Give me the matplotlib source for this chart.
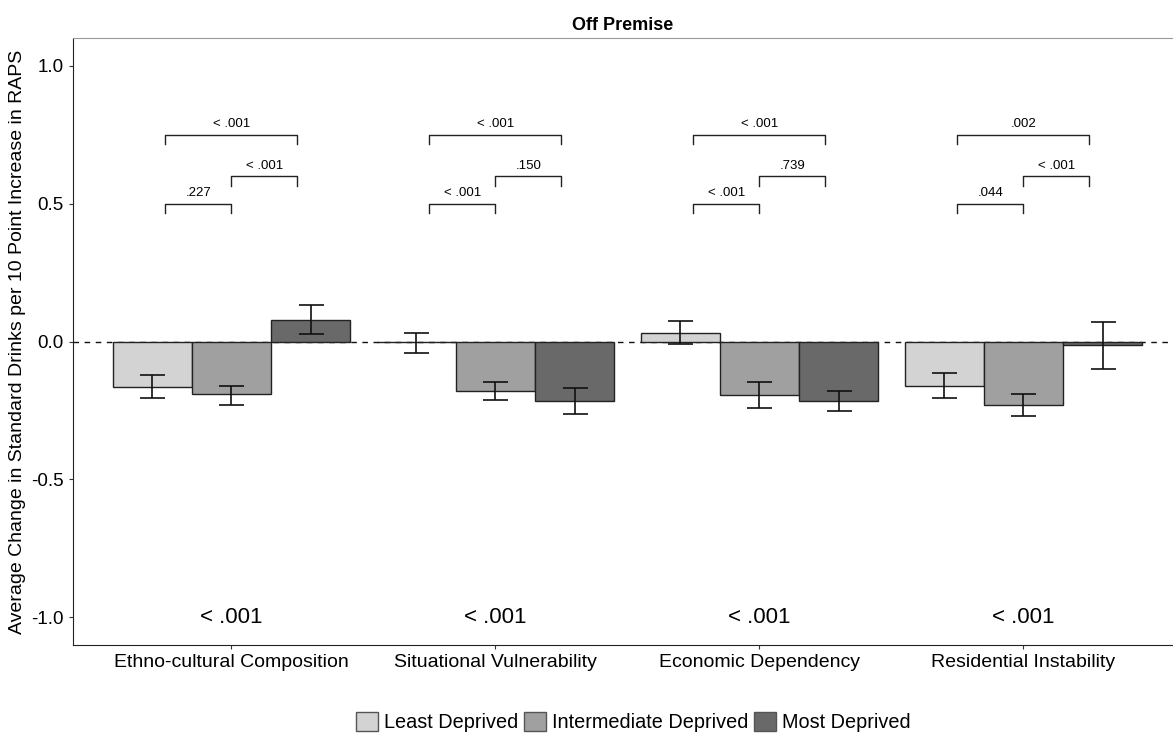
import matplotlib
matplotlib.use("Agg")
import matplotlib.pyplot as plt
from matplotlib.patches import Patch
import numpy as np

plt.rcParams["font.family"] = ["Liberation Sans", "DejaVu Sans"]

categories = ["Ethno-cultural Composition", "Situational Vulnerability",
              "Economic Dependency", "Residential Instability"]
groups = ["Least Deprived", "Intermediate Deprived", "Most Deprived"]
colors = ["#d3d3d3", "#a0a0a0", "#696969"]

# estimates per group (rows) x category (cols)
means = [
    [-0.165, -0.003, 0.031, -0.161],
    [-0.192, -0.178, -0.195, -0.229],
    [0.079, -0.217, -0.215, -0.013],
]
err_lo = [
    [-0.206, -0.040, -0.010, -0.204],
    [-0.230, -0.213, -0.241, -0.270],
    [0.026, -0.263, -0.252, -0.098],
]
err_hi = [
    [-0.120, 0.032, 0.075, -0.115],
    [-0.160, -0.145, -0.148, -0.190],
    [0.133, -0.170, -0.179, 0.070],
]

# pairwise p-values: (least vs inter), (inter vs most), (least vs most)
p_pairs = [
    [".227", "< .001", "< .001"],
    ["< .001", ".150", "< .001"],
    ["< .001", ".739", "< .001"],
    [".044", "< .001", ".002"],
]
p_overall = ["< .001", "< .001", "< .001", "< .001"]

fig = plt.figure(figsize=(11.73, 7.36), dpi=100)
ax = fig.add_axes([0.0622, 0.1236, 0.9378, 0.8248])

x = np.arange(1, len(categories) + 1)
width = 0.3
for i, g in enumerate(groups):
    xpos = x + (i - 1) * width
    m = np.array(means[i])
    ax.bar(xpos, m, width=width, color=colors[i], edgecolor="#222222",
           linewidth=1.0, zorder=2, label=g)
    lo = m - np.array(err_lo[i])
    hi = np.array(err_hi[i]) - m
    ax.errorbar(xpos, m, yerr=[lo, hi], fmt="none", ecolor="#111111",
                elinewidth=1.2, capsize=9, capthick=1.2, zorder=3)

ax.axhline(0, color="#111111", linestyle=(0, (4, 4)), linewidth=1.0, zorder=1)

# significance brackets
tip = 0.035
levels = [0.5, 0.6, 0.75]
pairs = [(-1, 0), (0, 1), (-1, 1)]
bw = 0.25
for c in range(len(categories)):
    for k, (a, b) in enumerate(pairs):
        x1 = x[c] + a * bw
        x2 = x[c] + b * bw
        y = levels[k]
        ax.plot([x1, x1, x2, x2], [y - tip, y, y, y - tip], color="#222222",
                linewidth=1.0, zorder=3)
        ax.text((x1 + x2) / 2, y + 0.015, p_pairs[c][k], ha="center",
                va="bottom", fontsize=9.5)
    ax.text(x[c], -1.0, p_overall[c], ha="center", va="center", fontsize=16)

ax.set_xlim(0.4, 0.4 + 1100 / 264)
ax.set_ylim(-1.1, 1.1)
ax.set_xticks(x)
ax.set_xticklabels(categories, fontsize=14)
ax.set_yticks([-1.0, -0.5, 0.0, 0.5, 1.0])
ax.set_yticklabels(["-1.0", "-0.5", "0.0", "0.5", "1.0"], fontsize=13.5)
ax.tick_params(axis="both", length=3, width=0.8, color="#333333")
ax.set_ylabel("Average Change in Standard Drinks per 10 Point Increase in RAPS",
              fontsize=14, labelpad=4)
ax.set_title("Off Premise", fontsize=13, fontweight="bold", pad=6)

ax.spines["right"].set_visible(False)
ax.spines["top"].set_color("#999999")
ax.spines["left"].set_color("#222222")
ax.spines["bottom"].set_color("#222222")

handles = [Patch(facecolor=colors[i], edgecolor="#555555", label=groups[i])
           for i in range(len(groups))]
fig.legend(handles=handles, loc="center", bbox_to_anchor=(0.54, 0.019),
           ncol=3, frameon=False, fontsize=14.3, handlelength=1.1,
           handleheight=1.1, handletextpad=0.3, columnspacing=0.3)

fig.savefig("out.png", dpi=100)
